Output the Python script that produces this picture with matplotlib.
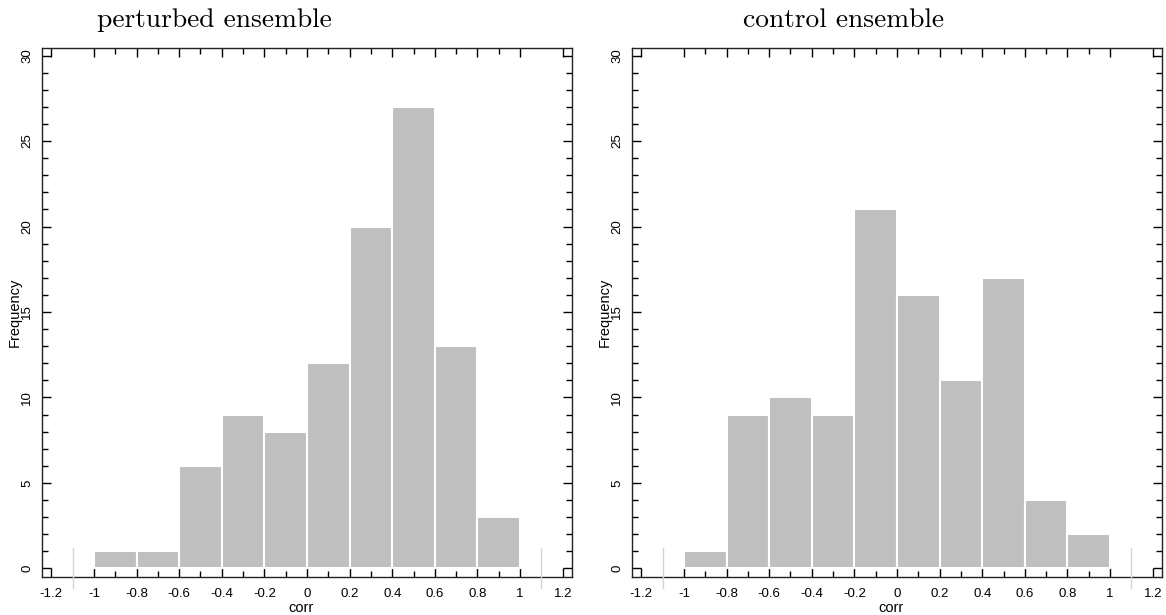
import matplotlib
matplotlib.use("Agg")
import matplotlib.pyplot as plt
import numpy as np
from matplotlib.ticker import MultipleLocator, FixedLocator

# ---- data ----
bin_edges = [-1.0, -0.8, -0.6, -0.4, -0.2, 0.0, 0.2, 0.4, 0.6, 0.8, 1.0]
perturbed_counts = [1, 1, 6, 9, 8, 12, 20, 27, 13, 3]
control_counts = [1, 9, 10, 9, 21, 16, 11, 17, 4, 2]
titles = ["perturbed ensemble", "control ensemble"]
x_ticks = [-1.2, -1.0, -0.8, -0.6, -0.4, -0.2, 0.0, 0.2, 0.4, 0.6, 0.8, 1.0, 1.2]
x_tick_labels = ["-1.2", "-1", "-0.8", "-0.6", "-0.4", "-0.2", "0", "0.2", "0.4", "0.6", "0.8", "1", "1.2"]
y_ticks = [0, 5, 10, 15, 20, 25, 30]
y_tick_labels = ["0", "5", "10", "15", "20", "25", "30"]
marker_x = [-1.1, 1.1]
x_label = "corr"
y_label = "Frequency"

W, H = 1166, 615
fig = plt.figure(figsize=(W / 100, H / 100), dpi=100)

sans = "Liberation Sans"
bar_color = "#bfbfbf"

panels = [
    (42.3, perturbed_counts, titles[0], 96.7),
    (632.3, control_counts, titles[1], 743.0),
]
ax_w = 529.4
ax_top, ax_bot = 48.3, 576.7

for left_px, counts, title, title_x in panels:
    ax = fig.add_axes([left_px / W, (H - ax_bot) / H, ax_w / W, (ax_bot - ax_top) / H])
    lefts = np.array(bin_edges[:-1])
    widths = np.diff(bin_edges)
    ax.bar(lefts, counts, width=widths, align="edge", color=bar_color,
           edgecolor="white", linewidth=1.5, zorder=2)
    for xm in marker_x:
        ax.plot([xm, xm], [-1.15, 1.19], color="#d4d4d4", linewidth=1.0,
                clip_on=False, zorder=10)
    ax.set_xlim(-1.242, 1.242)
    ax.set_ylim(-0.49, 30.43)

    ax.xaxis.set_major_locator(FixedLocator(x_ticks))
    ax.set_xticklabels(x_tick_labels, fontfamily=sans, fontsize=9.5)
    ax.xaxis.set_minor_locator(FixedLocator(np.round(np.arange(-0.9, 1.0, 0.2), 2)))
    ax.yaxis.set_major_locator(FixedLocator(y_ticks))
    ax.set_yticklabels(y_tick_labels, fontfamily=sans, fontsize=9.5, rotation=90, va="center")
    ax.yaxis.set_minor_locator(MultipleLocator(1))

    ax.tick_params(which="both", direction="in", top=True, right=True,
                   width=1.0, color="black")
    ax.tick_params(which="major", length=6.2)
    ax.tick_params(which="minor", length=4.3)
    ax.tick_params(axis="x", which="major", pad=8)
    ax.tick_params(axis="y", which="major", pad=6.5)
    for s in ax.spines.values():
        s.set_linewidth(1.0)
        s.set_color("#222222")

    fig.text((left_px + ax_w / 2 - 6) / W, (H - 612) / H, x_label, fontfamily=sans,
             fontsize=10.5, ha="center", va="baseline")
    ax.set_ylabel(y_label, fontfamily=sans, fontsize=10.5, labelpad=0)

    fig.text(title_x / W, (H - 27) / H, title, fontfamily="cmr10", fontsize=19.8,
             ha="left", va="baseline")

fig.savefig("out.png", dpi=100)
